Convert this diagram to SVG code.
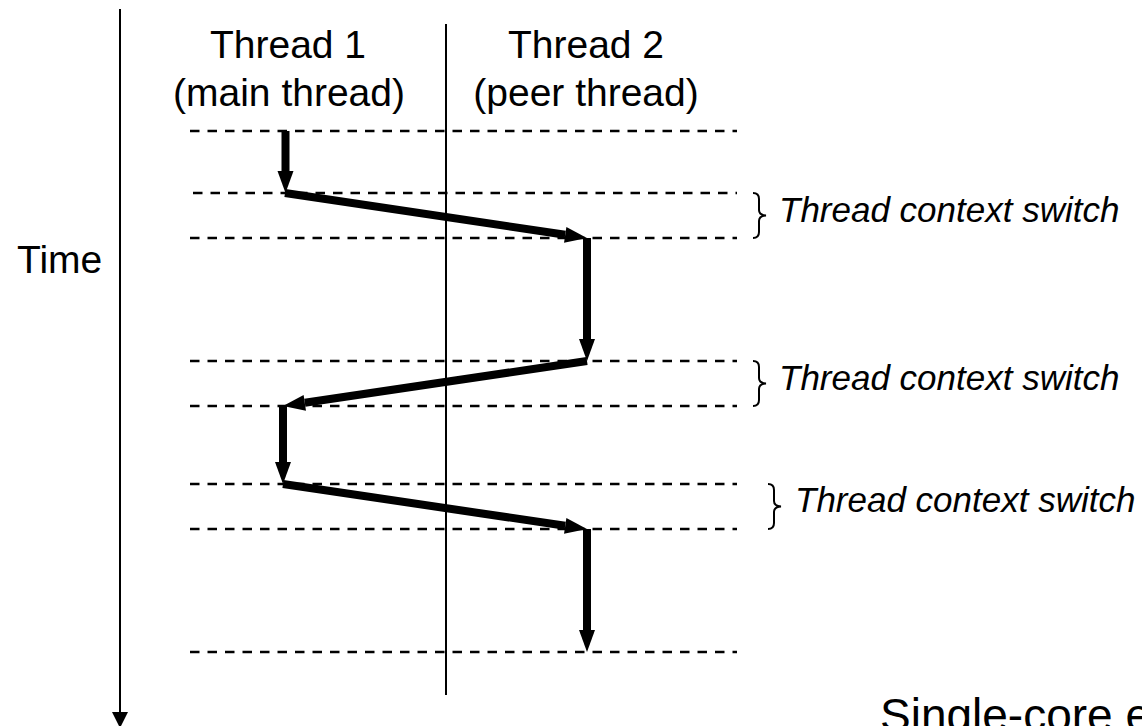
<svg xmlns="http://www.w3.org/2000/svg" width="1142" height="726" viewBox="0 0 1142 726">
  <style>
    .lbl { font-family: "Liberation Sans", Arial, sans-serif; font-size: 39px; fill: #000; }
    .sw { font-family: "Liberation Sans", Arial, sans-serif; font-size: 35px; font-style: italic; fill: #000; }
    .big { font-family: "Liberation Sans", Arial, sans-serif; font-size: 46px; fill: #000; }
    .dash { stroke: #000; stroke-width: 2.5; stroke-dasharray: 9.5 8; fill: none; }
    .axis { stroke: #000; stroke-width: 2; fill: none; }
    .flow { stroke: #000; stroke-width: 8; fill: none; marker-end: url(#head); }
    .brace { stroke: #000; stroke-width: 2; fill: none; }
  </style>
  <defs>
    <!-- arrowhead placed with its base on the end of the shaft -->
    <marker id="head" markerUnits="userSpaceOnUse" markerWidth="23" markerHeight="16" refX="0" refY="8" orient="auto" overflow="visible">
      <path d="M0,0 L22,8 L0,16 Z" fill="#000"/>
    </marker>
    <marker id="thin" markerUnits="userSpaceOnUse" markerWidth="16" markerHeight="16" refX="0" refY="8" orient="auto" overflow="visible">
      <path d="M0,0 L16,8 L0,16 Z" fill="#000"/>
    </marker>
  </defs>

  <!-- time axis -->
  <g id="time-axis">
    <line class="axis" x1="120" y1="9" x2="120" y2="712" marker-end="url(#thin)"/>
    <text class="lbl" x="17" y="273">Time</text>
  </g>

  <!-- divider between the two threads -->
  <g id="divider">
    <line class="axis" x1="446" y1="24" x2="446" y2="695"/>
  </g>

  <g id="thread1">
    <text class="lbl" x="288" y="58" text-anchor="middle">Thread 1</text>
    <text class="lbl" x="289" y="106" text-anchor="middle">(main thread)</text>
  </g>
  <g id="thread2">
    <text class="lbl" x="586" y="58" text-anchor="middle">Thread 2</text>
    <text class="lbl" x="586" y="106" text-anchor="middle">(peer thread)</text>
  </g>

  <!-- time slice boundaries -->
  <g id="boundaries">
    <line class="dash" x1="190" y1="131" x2="737" y2="131"/>
    <line class="dash" x1="193" y1="193" x2="737" y2="193"/>
    <line class="dash" x1="190" y1="238" x2="737" y2="238"/>
    <line class="dash" x1="190" y1="361" x2="737" y2="361"/>
    <line class="dash" x1="190" y1="406" x2="737" y2="406"/>
    <line class="dash" x1="190" y1="484" x2="737" y2="484"/>
    <line class="dash" x1="190" y1="529" x2="737" y2="529"/>
    <line class="dash" x1="190" y1="652" x2="737" y2="652"/>
  </g>

  <!-- execution flow -->
  <g id="connectors">
    <line class="flow" x1="285.5" y1="131" x2="285.5" y2="171"/>
    <line class="flow" x1="285" y1="193" x2="565.2" y2="234.8"/>
    <line class="flow" x1="587" y1="238" x2="587" y2="339"/>
    <line class="flow" x1="587" y1="361" x2="304.8" y2="402.8"/>
    <line class="flow" x1="283" y1="406" x2="283" y2="462"/>
    <line class="flow" x1="283" y1="484" x2="565.2" y2="525.8"/>
    <line class="flow" x1="587" y1="529" x2="587" y2="630"/>
  </g>

  <g id="switch1">
    <path class="brace" d="M753,193 q6,0 6,6 v11 q0,5 7,5.5 q-7,0.5 -7,5.5 v11 q0,6 -6,6"/>
    <text class="sw" x="779" y="222">Thread context switch</text>
  </g>
  <g id="switch2">
    <path class="brace" d="M753,361 q6,0 6,6 v11 q0,5 7,5.5 q-7,0.5 -7,5.5 v11 q0,6 -6,6"/>
    <text class="sw" x="779" y="390">Thread context switch</text>
  </g>
  <g id="switch3">
    <path class="brace" d="M768,484 q6,0 6,6 v11 q0,5 7,5.5 q-7,0.5 -7,5.5 v11 q0,6 -6,6"/>
    <text class="sw" x="795" y="512">Thread context switch</text>
  </g>

  <g id="caption">
    <text class="big" x="880" y="731">Single-core e</text>
  </g>
</svg>
